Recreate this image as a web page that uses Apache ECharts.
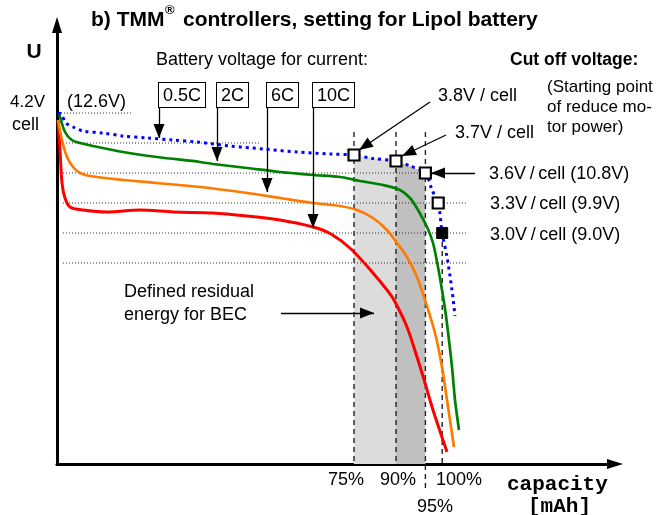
<!DOCTYPE html>
<html lang="en">
<head>
<meta charset="UTF-8">
<title>TMM controllers, Lipol</title>
<script src="https://cdn.jsdelivr.net/npm/echarts@6/dist/echarts.min.js"></script>
<style>
    html,body{margin:0;padding:0;background:#fff;}
    #chart{width:662px;height:515px;}
</style>
</head>
<body>
<div id="chart"></div>
<script>
    // x = capacity (schematic units), y = volts per cell
    const curve05C = [[0.25,4.20],[1,4.19],[2.25,4.10],[4,4.06],[6.5,4.02],[11.5,4.00],[16.5,3.97],[22.5,3.95],[29,3.93],[35,3.91],[43.25,3.87],[51.5,3.84],[60,3.81],[68.25,3.79],[74.25,3.78],[79,3.745],[84.75,3.72],[88.25,3.67],[92.1,3.60],[93.75,3.43],[95.3,3.30],[96.3,3.00],[97.5,2.76],[98.75,2.43],[99.5,2.17]];
    const curve2C = [[0.5,4.20],[2,4.01],[3.7,3.93],[5.75,3.90],[9,3.87],[16.5,3.81],[25,3.76],[35.75,3.71],[39,3.69],[47.5,3.65],[55.75,3.61],[64,3.58],[70.75,3.56],[75.75,3.52],[81.5,3.48],[85.75,3.43],[88.25,3.35],[90.25,3.23],[92.5,3.06],[94,2.90],[95.25,2.66],[96.25,2.43],[97.25,2.17],[98.75,1.66],[99.5,1.33],[100.5,1.03]];
    const curve6C = [[0.25,4.13],[1.25,3.93],[2.5,3.76],[4,3.66],[5.75,3.60],[8.25,3.57],[16.5,3.53],[25,3.50],[35.75,3.46],[47.5,3.40],[55.75,3.35],[64,3.30],[70.75,3.27],[75,3.23],[79,3.15],[82.5,3.03],[85,2.90],[87.5,2.76],[90,2.56],[92,2.33],[94.5,2.00],[96.25,1.66],[97.5,1.33],[99.25,0.86]];
    const curve10C = [[0.25,4.12],[0.75,3.83],[1.25,3.50],[2,3.35],[3.25,3.26],[6.5,3.23],[12.5,3.21],[20.75,3.23],[29,3.21],[39,3.20],[47.5,3.17],[55.75,3.13],[64,3.06],[68.5,2.99],[73.5,2.84],[79,2.60],[82.5,2.43],[84.25,2.33],[87.5,2.06],[90,1.76],[92,1.50],[94,1.23],[97.5,0.81]];

    const shade75 = [[74.25,3.78],[79,3.745],[84.75,3.72]];
    const shade90 = [[84.75,3.72],[88.25,3.67],[92.1,3.60]];

    const cutOpen = [[74.25,3.78],[84.75,3.72],[92.1,3.60],[95.3,3.30]];
    const cutFilled = [[96.3,3.00]];

    const levelV = [4.2, 3.9, 3.6, 3.3, 3.0, 2.7];
    const levelFrom = [-12.5, 1.5, 1.5, 1.5, 1.5, 1.5];
    const levelTo = [18.75, 51, 91, 102.75, 102.75, 102.75];

    const pctLabels = ['75%', '90%', '95%', '100%'];
    const pctX = [74.25, 84.75, 92.1, 96.3];
    const pctTop = [4.01, 4.01, 4.01, 3.0];
    const pctBottom = [0.69, 0.69, 0.43, 0.69];

    const rateLabels = ['0.5C', '2C', '6C', '10C'];
    const rateX = [25.5, 40, 52.5, 64];
    const rateTop = 4.5;
    const rateTip = [3.95, 3.72, 3.41, 3.05];

    // pointer arrows: [from, to]
    const pointers = [
        [[93.25,4.31],[75.5,3.83]],
        [[97.25,3.98],[86.25,3.77]],
        [[104.5,3.6],[93.5,3.6]],
        [[56,2.2],[79.25,2.2]]
    ];

    const FONT = '"Liberation Sans", Arial, sans-serif';
    const MONO = '"Liberation Mono", "Courier New", monospace';

    let chart = echarts.init(document.getElementById('chart'));

    let series = [];
    series.push({type:'line', data:shade75, symbol:'none', silent:true, z:1,
        lineStyle:{width:0}, areaStyle:{color:'#dcdcdc', opacity:1, origin:'start'}});
    series.push({type:'line', data:shade90, symbol:'none', silent:true, z:1,
        lineStyle:{width:0}, areaStyle:{color:'#c0c0c0', opacity:1, origin:'start'}});

    for(let i=0;i<pctX.length;i++){
        series.push({type:'line', data:[[pctX[i],pctTop[i]],[pctX[i],pctBottom[i]]], symbol:'none', clip:false, silent:true, z:2,
            lineStyle:{color:'#222', width:1.4, type:[5,4]}});
    }
    for(let i=0;i<levelV.length;i++){
        series.push({type:'line', data:[[levelFrom[i],levelV[i]],[levelTo[i],levelV[i]]], symbol:'none', clip:false, silent:true, z:2,
            lineStyle:{color:'#333', width:1, type:[1,2]}});
    }

    [[curve10C,'#ff0000',3],[curve6C,'#ff7a00',2.7],[curve2C,'#008000',2.7]].forEach(function (c) {
        series.push({type:'line', data:c[0], smooth:0.3, symbol:'none', silent:true, z:4,
            lineStyle:{color:c[1], width:c[2]}});
    });
    series.push({type:'line', data:curve05C, smooth:0.3, symbol:'none', silent:true, z:5,
        lineStyle:{color:'#0000ff', width:3, type:[3,4]}});

    series.push({type:'scatter', data:cutOpen, symbol:'rect', symbolSize:11, silent:true, z:7,
        itemStyle:{color:'#fff', borderColor:'#000', borderWidth:2.2, opacity:1}});
    series.push({type:'scatter', data:cutFilled, symbol:'rect', symbolSize:11, silent:true, z:7,
        itemStyle:{color:'#000', borderColor:'#000', borderWidth:1, opacity:1}});

    let arrowLines = pointers.map(p => [{coord:p[0]},{coord:p[1]}]);
    for(let i=0;i<rateX.length;i++){
        arrowLines.push([{coord:[rateX[i],rateTop]},{coord:[rateX[i],rateTip[i]]}]);
    }
    series.push({type:'line', data:[], z:8,
        markLine:{silent:true, animation:false, symbol:['none','triangle'], symbolSize:[11,14], symbolOffset:[[0,0],[0,7]],
            label:{show:false}, lineStyle:{color:'#000', width:1.3, type:'solid'}, data:arrowLines}});

    // text annotations (pixel layout)
    let texts = [
        {x:91, y:20, t:'b) TMM', f:'bold 21px'},
        {x:165, y:10, t:'®', f:'bold 13px'},
        {x:183, y:20, t:'controllers, setting for Lipol battery', f:'bold 21px'},
        {x:34, y:52, t:'U', f:'bold 21px', a:'center'},
        {x:156, y:60, t:'Battery voltage for current:'},
        {x:510, y:60, t:'Cut off voltage:', f:'bold 17.5px'},
        {x:547, y:77, t:'(Starting point\nof reduce mo-\ntor power)', f:'17px', va:'top', lh:20},
        {x:10, y:102, t:'4.2V', f:'17px'},
        {x:67, y:102, t:'(12.6V)'},
        {x:12, y:125, t:'cell'},
        {x:438, y:96, t:'3.8V / cell'},
        {x:455, y:133, t:'3.7V / cell'},
        {x:489, y:174, t:'3.6V\u2009/\u2009cell (10.8V)'},
        {x:490, y:204, t:'3.3V\u2009/\u2009cell (9.9V)'},
        {x:490, y:235, t:'3.0V\u2009/\u2009cell (9.0V)'},
        {x:124, y:281, t:'Defined residual\nenergy for BEC', va:'top', lh:23},
        {x:346, y:480, t:pctLabels[0], a:'center'},
        {x:398, y:480, t:pctLabels[1], a:'center'},
        {x:435, y:507, t:pctLabels[2], a:'center'},
        {x:459, y:480, t:pctLabels[3], a:'center'},
        {x:507, y:485, t:'capacity', ff:MONO, f:'bold 21px'},
        {x:528, y:507, t:'[mAh]', ff:MONO, f:'bold 21px'}
    ];
    let graphic = texts.map(function (d) {
        let st = {text:d.t, font:(d.f||'18px')+' '+(d.ff||FONT), fill:'#000',
            align:d.a||'left', verticalAlign:d.va||'middle'};
        if(d.lh) st.lineHeight = d.lh;
        return {type:'text', x:d.x, y:d.y, z:100, silent:true, style:st};
    });
    let boxX = [159, 217, 267, 313];
    rateLabels.forEach(function (r, i) {
        graphic.push({type:'text', x:boxX[i], y:83, z:100, silent:true,
            style:{text:r, font:'18px '+FONT, fill:'#000', align:'left', verticalAlign:'top',
                backgroundColor:'#fff', borderColor:'#000', borderWidth:1, padding:[4,4,2,4]}});
    });

    let option = {
        animation:false,
        grid:{left:57, right:47, top:25, bottom:51},
        xAxis:{type:'value', min:0, max:139.5,
            axisLine:{show:true, symbol:['none','triangle'], symbolSize:[10,16], lineStyle:{color:'#000', width:3}},
            axisTick:{show:false}, axisLabel:{show:false}, splitLine:{show:false}},
        yAxis:{type:'value', min:0.69, max:5.08,
            axisLine:{show:true, symbol:['none','triangle'], symbolSize:[10,16], lineStyle:{color:'#000', width:3}},
            axisTick:{show:false}, axisLabel:{show:false}, splitLine:{show:false}},
        graphic:graphic,
        series:series
    };
    chart.setOption(option);
</script>
</body>
</html>
